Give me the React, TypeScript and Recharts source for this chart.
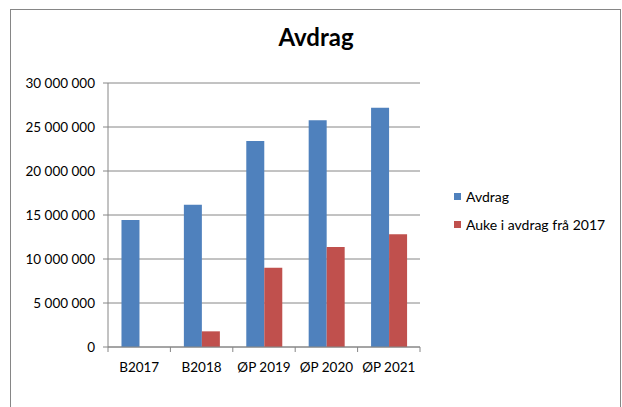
import React from 'react';
import { BarChart, Bar, XAxis, YAxis, CartesianGrid, Legend } from 'recharts';

const categories = ['B2017', 'B2018', 'ØP 2019', 'ØP 2020', 'ØP 2021'];
const avdrag = [14430000, 16170000, 23400000, 25760000, 27200000];
const auke = [0, 1780000, 9000000, 11360000, 12800000];
const yTicks = [0, 5000000, 10000000, 15000000, 20000000, 25000000, 30000000];
const seriesNames = ['Avdrag', 'Auke i avdrag frå 2017'];
const colors = ['#4F81BD', '#C0504D'];

const data = categories.map((c, i) => ({ name: c, avdrag: avdrag[i], auke: auke[i] }));

const FONT = 'Lato, "Open Sans", sans-serif';
const fmt = (n: number) => String(n).replace(/\B(?=(\d{3})+(?!\d))/g, ' ');

const XTick = (props: any) => {
  const { x, y, payload, index, visibleTicksCount, width } = props;
  const bw = width / visibleTicksCount;
  return (
    <g>
      <line x1={x - bw / 2} x2={x - bw / 2} y1={y - 5} y2={y} stroke="#868686" />
      {index === visibleTicksCount - 1 && (
        <line x1={x + bw / 2} x2={x + bw / 2} y1={y - 5} y2={y} stroke="#868686" />
      )}
      <text x={x} y={y} dy={20} textAnchor="middle" fontSize={13.5} fill="#000" fontFamily={FONT}>
        {payload.value}
      </text>
    </g>
  );
};

const LegendContent = () => {
  return (
    <div style={{ fontFamily: FONT, fontSize: 14, color: '#000', whiteSpace: 'nowrap', width: 180 }}>
      {seriesNames.map((name, i) => (
        <div key={i} style={{ display: 'flex', alignItems: 'center', height: 28 }}>
          <span style={{ width: 7, height: 7, minWidth: 7, flexShrink: 0, background: colors[i], display: 'inline-block', marginRight: 5 }} />
          <span>{name}</span>
        </div>
      ))}
    </div>
  );
};

export default function App() {
  return (
    <div style={{ position: 'absolute', left: 0, top: 0, width: 622, height: 407, background: '#fff', overflow: 'hidden', fontFamily: FONT }}>
      <div style={{ position: 'absolute', left: 10, top: 9, width: 609, height: 420, border: '1px solid #868686' }} />
      <div style={{ position: 'absolute', left: 0, width: 632, top: 22, textAlign: 'center', fontSize: 24, fontWeight: 700, color: '#000', fontFamily: FONT }}>
        Avdrag
      </div>
      <div style={{ position: 'absolute', left: 0, top: 0 }}>
        <BarChart
          width={622}
          height={407}
          data={data}
          margin={{ top: 83, right: 202, bottom: 30, left: 8 }}
          barCategoryGap="21.6%"
          barGap={0}
        >
          <CartesianGrid vertical={false} stroke="#868686" />
          <XAxis
            dataKey="name"
            tick={<XTick />}
            tickLine={false}
            tickSize={5}
            tickMargin={0}
            axisLine={{ stroke: '#868686' }}
            height={30}
            interval={0}
          />
          <YAxis
            width={100}
            domain={[0, 30000000]}
            ticks={yTicks}
            tickFormatter={fmt}
            tickSize={5}
            tickMargin={8}
            tickLine={{ stroke: '#868686' }}
            axisLine={{ stroke: '#868686' }}
            tick={{ fontSize: 13.5, fill: '#000', fontFamily: FONT }}
            interval={0}
          />
          <Legend
            content={<LegendContent />}
            wrapperStyle={{ position: 'absolute', left: 454, top: 182, width: 0, height: 0, overflow: 'visible' }}
          />
          <Bar dataKey="avdrag" name={seriesNames[0]} fill={colors[0]} isAnimationActive={false} />
          <Bar dataKey="auke" name={seriesNames[1]} fill={colors[1]} isAnimationActive={false} />
        </BarChart>
      </div>
    </div>
  );
}
